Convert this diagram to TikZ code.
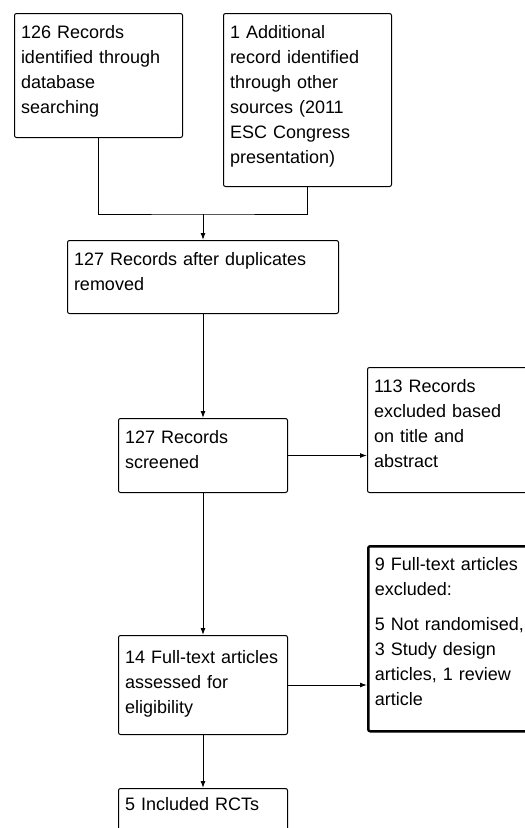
\documentclass[tikz,border=0pt]{standalone}
\usepackage{fontspec}
\setmainfont{Liberation Sans}
\usepackage{tikz}
\usetikzlibrary{positioning, arrows.meta}
\tikzset{
    box/.style={ % Sets the properties for each box
        draw,
        line width=1pt,
        rounded corners=2pt,
        anchor=north west,
        align=left,
        inner xsep=6.5pt,
        inner ysep=0pt,
        text width=155pt,
        text height=25pt, % First baseline below the top edge
        font=\fontsize{18}{25}\selectfont
    },
    every edge/.style={ % Sets the properties for each connector
        draw,
        -{Latex[length=7pt,width=5pt]},
        line width=1pt
    }
}
\begin{document}
\begin{tikzpicture}[x=1pt, y=-1pt]
            \useasboundingbox (0,0) rectangle (525,828);
            \node[box, text depth=99pt] (db) at (14,13) {126 Records\\identified through\\database\\searching};
            \node[box, text depth=148pt, right=40pt of db.north east, anchor=north west] (other) {1 Additional\\record identified\\through other\\sources (2011\\ESC Congress\\presentation)};
            \coordinate (join) at (203,214);
            \node[box, text width=258pt, text depth=48pt, below=26pt of join] (dup) {127 Records after duplicates\\removed};
            \node[box, text width=156pt, text depth=49pt, below=104pt of dup] (screened) {127 Records\\screened};
            \node[box, text depth=100pt] (titleexcl) at (367,367) {113 Records\\excluded based\\on title and\\abstract};
            \node[box, text width=156pt, text height=28pt, text depth=71pt, below=142pt of screened] (fulltext) {14 Full-text articles\\assessed for\\eligibility};
            \node[box, line width=2.5pt, text height=24pt, text depth=161pt] (ftexcl) at (367,545) {9 Full-text articles\\excluded:\\[10pt]5 Not randomised,\\3 Study design\\articles, 1 review\\article};
            \node[box, text width=156pt, text height=22pt, text depth=40pt, below=53pt of fulltext] (rcts) {5 Included RCTs};
            \draw[line width=1pt] (db.south) |- (join) -| (other.south);
            \draw   (join) edge (dup)
                    (dup) edge (screened)
                    (screened.east) edge (screened.east -| titleexcl.west)
                    (screened) edge (fulltext)
                    (fulltext.east) edge (fulltext.east -| ftexcl.west)
                    (fulltext) edge (rcts)
            ;
        \end{tikzpicture}
\end{document}
